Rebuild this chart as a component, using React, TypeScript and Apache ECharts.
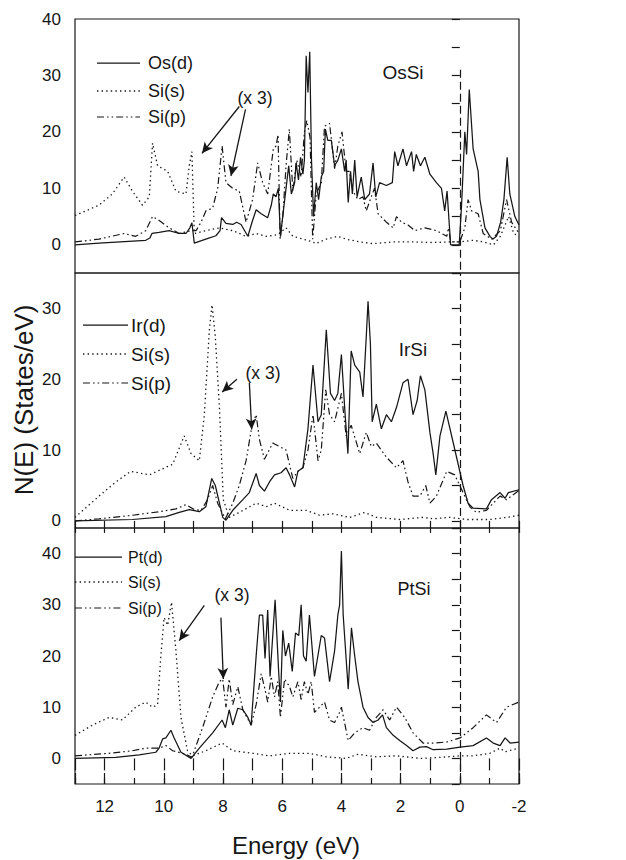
import React, { useEffect, useRef } from 'react';
import * as echarts from 'echarts';

type P = [number, number];

// ---------- OsSi ----------
const osD: P[] = [
  [13, 0], [12.19, 0.3], [10.61, 0.8], [10.47, 1.2], [10.4, 2.0], [10.16, 2.2], [9.82, 2.5], [9.48, 2.0], [9.25, 2.0],
  [9.12, 3.0], [9.05, 3.9], [8.97, 0.3], [8.58, 1.0], [8.24, 1.6], [8.1, 2.5], [8.05, 4.8], [7.9, 3.8], [7.67, 3.6],
  [7.54, 4.0], [7.39, 3.6], [7.16, 1.5], [7.02, 4.0], [6.88, 6.2], [6.71, 5.5], [6.49, 4.8], [6.37, 7.0], [6.3, 9.0],
  [6.21, 8.5], [6.13, 10.0], [6.06, 1.5], [5.96, 6.0], [5.87, 10.0], [5.78, 14.0], [5.69, 9.0], [5.58, 11.0], [5.53, 14.5],
  [5.45, 11.5], [5.38, 15.5], [5.3, 12.5], [5.25, 15.0], [5.19, 33.5], [5.13, 27.0], [5.07, 34.2], [5.01, 15.0], [4.94, 5.0],
  [4.85, 11.0], [4.77, 8.0], [4.68, 12.0], [4.6, 13.0], [4.54, 20.5], [4.46, 18.5], [4.34, 18.5], [4.23, 14.0], [4.12, 15.0],
  [4.0, 17.0], [3.89, 13.0], [3.84, 15.0], [3.77, 7.5], [3.69, 13.0], [3.63, 9.0], [3.55, 15.0], [3.47, 8.5], [3.33, 12.0],
  [3.21, 8.0], [3.05, 9.0], [2.93, 14.5], [2.84, 8.5], [2.71, 11.0], [2.48, 10.5], [2.28, 11.0], [2.2, 16.5], [2.09, 14.0],
  [1.92, 17.0], [1.8, 14.0], [1.63, 16.5], [1.56, 13.0], [1.47, 16.0], [1.33, 14.0], [1.18, 15.5], [1.01, 12.5], [0.79, 11.0],
  [0.62, 10.0], [0.51, 6.0], [0.43, 9.5], [0.36, 4.0], [0.31, 0], [0.02, 0], [-0.06, 7.0], [-0.17, 20.0], [-0.23, 16.0],
  [-0.32, 27.5], [-0.45, 17.0], [-0.62, 13.0], [-0.68, 8.0], [-0.85, 3.0], [-1.02, 1.5], [-1.11, 1.0], [-1.24, 1.5],
  [-1.38, 4.0], [-1.49, 8.0], [-1.6, 15.5], [-1.69, 9.0], [-1.86, 5.0], [-2, 3.5],
];
const osSiS: P[] = [
  [13, 5.2], [12.19, 7.0], [11.74, 9.0], [11.34, 12.0], [11.06, 9.5], [10.72, 7.0], [10.49, 8.5], [10.38, 18.0], [10.21, 14.0],
  [9.87, 13.0], [9.59, 9.5], [9.25, 9.0], [9.14, 14.0], [9.05, 16.5], [8.97, 2.0], [8.58, 2.5], [8.12, 3.0], [7.67, 2.5],
  [7.22, 1.5], [6.88, 2.0], [6.54, 1.5], [6.15, 1.8], [5.87, 3.0], [5.64, 1.5], [5.3, 1.0], [4.96, 0.5], [4.87, 0.2],
  [4.51, 1.0], [4.12, 1.5], [3.84, 1.0], [3.38, 0.5], [2.93, 0.2], [2.25, 0.5], [1.58, 0.5], [0.9, 0.4], [0.33, 0.5],
  [0, 0.5], [-0.45, 0.8], [-0.8, 0.5], [-1.14, 0], [-1.37, 1.5], [-1.65, 5.0], [-1.82, 2.0], [-2, 1.5],
];
const osSiP: P[] = [
  [13, 0.5], [12.19, 1.0], [11.34, 2.0], [10.95, 1.5], [10.61, 2.5], [10.38, 5.0], [10.21, 4.5], [9.82, 3.0], [9.48, 2.0],
  [9.08, 2.5], [8.91, 2.5], [8.74, 4.0], [8.58, 6.0], [8.35, 6.5], [8.18, 10.0], [8.03, 17.5], [7.9, 11.0], [7.67, 10.0],
  [7.45, 9.5], [7.22, 4.0], [7.0, 8.0], [6.83, 14.5], [6.66, 11.0], [6.49, 9.0], [6.3, 17.0], [6.21, 17.5], [6.14, 19.5],
  [6.07, 1.0], [5.98, 5.0], [5.87, 14.0], [5.76, 20.5], [5.64, 9.5], [5.51, 15.0], [5.36, 12.0], [5.25, 20.0], [5.17, 22.0],
  [5.06, 19.0], [4.97, 1.0], [4.85, 9.0], [4.68, 11.0], [4.57, 21.0], [4.4, 21.5], [4.23, 13.5], [4.12, 17.5], [3.98, 20.0],
  [3.84, 13.0], [3.73, 13.0], [3.61, 9.5], [3.44, 8.0], [3.27, 8.5], [3.16, 6.0], [2.99, 8.5], [2.88, 10.0], [2.76, 5.5],
  [2.48, 4.0], [2.25, 3.0], [2.14, 5.0], [1.97, 4.0], [1.75, 3.5], [1.52, 2.5], [1.18, 3.0], [0.79, 2.5], [0.44, 1.5],
  [0.38, 3.0], [0.31, 0.5], [0, 0.5], [-0.17, 3.0], [-0.28, 8.0], [-0.4, 6.0], [-0.62, 5.5], [-0.79, 2.0], [-1.08, 1.0],
  [-1.37, 2.5], [-1.58, 8.0], [-1.75, 4.0], [-2, 2.0],
];

// ---------- IrSi ----------
const irD: P[] = [
  [13, 0], [11.06, 0.2], [9.93, 0.6], [9.48, 1.2], [9.14, 1.6], [8.8, 1.3], [8.58, 2.0], [8.38, 6.0], [8.26, 5.0],
  [8.12, 2.5], [8.01, 0.5], [7.9, 0.1], [7.67, 1.5], [7.33, 3.0], [7.11, 4.0], [6.88, 6.7], [6.77, 5.0], [6.6, 4.2],
  [6.43, 5.5], [6.26, 6.5], [6.04, 6.8], [5.87, 7.5], [5.75, 6.5], [5.58, 4.8], [5.47, 7.0], [5.3, 7.5], [5.13, 13.0],
  [4.96, 22.0], [4.79, 14.0], [4.68, 15.0], [4.51, 27.0], [4.37, 18.0], [4.23, 17.0], [4.12, 18.0], [4.0, 23.5], [3.89, 16.0],
  [3.78, 9.5], [3.67, 24.0], [3.55, 22.0], [3.38, 21.0], [3.27, 17.5], [3.16, 26.0], [3.1, 31.0], [3.02, 25.0], [2.96, 14.0],
  [2.82, 16.5], [2.65, 13.0], [2.48, 15.0], [2.31, 14.0], [2.14, 16.0], [1.92, 19.5], [1.75, 20.0], [1.58, 15.0], [1.44, 17.0],
  [1.33, 20.5], [1.18, 18.5], [1.01, 12.5], [0.9, 9.5], [0.81, 6.5], [0.67, 12.0], [0.47, 15.5], [0.22, 11.0], [-0.11, 5.0],
  [-0.28, 2.5], [-0.45, 1.8], [-0.9, 1.7], [-1.07, 3.0], [-1.36, 4.0], [-1.53, 3.2], [-1.64, 4.0], [-2, 4.4],
];
const irSiS: P[] = [
  [13, 0.5], [12.19, 3.5], [11.62, 5.5], [11.12, 7.0], [10.49, 6.5], [9.7, 8.0], [9.31, 12.0], [9.08, 9.5], [8.8, 8.5],
  [8.63, 15.0], [8.46, 27.0], [8.37, 30.5], [8.26, 26.0], [8.12, 16.0], [7.99, 3.0], [7.79, 0.5], [7.45, 1.2], [6.88, 2.5],
  [6.54, 2.0], [6.26, 2.5], [5.75, 1.5], [5.19, 1.5], [4.74, 0.8], [4.29, 1.0], [3.72, 0.5], [3.21, 1.2], [2.82, 0.5],
  [2.03, 0.2], [1.24, 0.5], [0.9, 0.3], [0.34, 0.5], [-0.23, 0.2], [-1.02, 0.2], [-1.58, 0.5], [-2, 0.8],
];
const irSiP: P[] = [
  [13, 0], [12.19, 0.3], [11.06, 0.8], [10.16, 1.3], [9.59, 1.7], [9.25, 2.3], [8.97, 1.6], [8.74, 1.5], [8.52, 3.0],
  [8.35, 5.0], [8.18, 2.5], [7.92, 0.3], [7.67, 2.5], [7.45, 5.0], [7.22, 8.5], [7.02, 13.5], [6.88, 15.0], [6.77, 11.5],
  [6.6, 8.7], [6.32, 11.0], [6.09, 10.5], [5.87, 10.0], [5.64, 6.0], [5.47, 7.0], [5.3, 7.5], [5.13, 10.0], [4.96, 15.0],
  [4.79, 8.5], [4.68, 10.0], [4.53, 18.5], [4.4, 15.0], [4.23, 14.0], [4.0, 18.0], [3.84, 12.0], [3.67, 13.5], [3.38, 9.5],
  [3.16, 12.5], [2.99, 10.5], [2.82, 11.0], [2.48, 9.0], [2.14, 7.5], [1.92, 8.5], [1.75, 5.5], [1.58, 3.5], [1.35, 3.5],
  [1.15, 5.0], [1.01, 2.5], [0.79, 3.5], [0.44, 7.0], [0.17, 6.5], [-0.11, 4.0], [-0.34, 2.0], [-0.56, 1.2], [-0.9, 1.5],
  [-1.13, 2.5], [-1.36, 3.5], [-1.58, 3.0], [-2, 4.3],
];

// ---------- PtSi ----------
const ptD: P[] = [
  [13, 0], [11.62, 0.2], [10.83, 0.7], [10.27, 1.2], [10.16, 2.0], [10.04, 3.8], [9.93, 4.0], [9.76, 5.5], [9.65, 4.0],
  [9.42, 1.2], [9.08, 0], [8.8, 2.0], [8.35, 5.0], [8.03, 7.5], [7.92, 6.0], [7.79, 9.5], [7.67, 6.5], [7.5, 9.8],
  [7.33, 9.5], [7.16, 8.0], [7.05, 6.5], [6.88, 20.0], [6.77, 28.0], [6.66, 28.0], [6.58, 19.5], [6.49, 29.0], [6.41, 16.0],
  [6.24, 31.0], [6.12, 17.0], [6.06, 11.0], [5.98, 25.0], [5.89, 20.0], [5.78, 22.5], [5.66, 17.0], [5.55, 24.5], [5.44, 24.0],
  [5.36, 30.0], [5.28, 20.0], [5.19, 19.0], [5.08, 28.0], [4.91, 16.0], [4.68, 24.0], [4.57, 23.5], [4.4, 15.0], [4.23, 21.0],
  [4.12, 28.0], [4.06, 30.0], [4.0, 40.5], [3.94, 28.0], [3.77, 13.5], [3.66, 25.5], [3.55, 20.0], [3.44, 15.0], [3.27, 10.0],
  [3.1, 8.0], [2.93, 7.0], [2.76, 7.5], [2.61, 8.5], [2.48, 6.0], [2.25, 4.5], [2.03, 3.5], [1.8, 2.5], [1.58, 1.5],
  [1.35, 2.2], [1.13, 2.3], [0.9, 1.7], [0.44, 1.8], [-0.01, 2.2], [-0.45, 2.5], [-0.9, 4.0], [-1.13, 3.0], [-1.36, 2.5],
  [-1.53, 4.0], [-1.7, 3.0], [-2, 3.2],
];
const ptSiS: P[] = [
  [13, 4.5], [12.41, 6.5], [11.85, 8.0], [11.4, 7.5], [10.95, 10.0], [10.61, 11.0], [10.38, 10.0], [10.21, 10.5], [10.1, 20.0],
  [9.99, 27.5], [9.87, 26.0], [9.74, 30.5], [9.59, 21.0], [9.42, 8.0], [9.2, 1.5], [9.03, 0.5], [8.58, 1.5], [8.03, 3.0],
  [7.67, 1.5], [7.0, 1.0], [6.43, 0.5], [5.75, 1.0], [5.08, 1.0], [4.51, 0.3], [3.84, 0], [3.44, 0.8], [2.82, 0.3],
  [2.14, 0.5], [1.35, 0], [0.67, 0.2], [-0.01, 0.5], [-0.45, 0.5], [-1.02, 1.0], [-1.36, 2.0], [-1.53, 1.3], [-2, 2.0],
];
const ptSiP: P[] = [
  [13, 0.5], [11.85, 1.0], [11.06, 1.5], [10.61, 2.0], [10.16, 2.0], [9.93, 2.5], [9.7, 1.5], [9.25, 0.8], [9.05, 0.2],
  [8.69, 6.0], [8.35, 12.0], [8.12, 15.0], [8.01, 15.5], [7.9, 10.0], [7.79, 15.5], [7.67, 10.5], [7.5, 14.0], [7.33, 9.5],
  [7.05, 6.5], [6.88, 10.5], [6.71, 16.5], [6.6, 14.0], [6.49, 11.0], [6.37, 16.0], [6.26, 12.0], [6.15, 15.0], [6.06, 8.0],
  [5.92, 15.5], [5.75, 14.0], [5.64, 12.0], [5.47, 15.0], [5.36, 11.5], [5.25, 15.0], [5.13, 12.5], [5.02, 15.0], [4.91, 9.0],
  [4.74, 10.0], [4.57, 11.0], [4.4, 7.5], [4.23, 7.0], [4.06, 9.0], [4.0, 10.0], [3.77, 3.5], [3.55, 5.0], [3.27, 6.0],
  [3.05, 5.5], [2.82, 8.0], [2.59, 9.5], [2.37, 7.5], [2.14, 10.0], [1.86, 8.0], [1.58, 5.0], [1.24, 3.0], [0.9, 3.0],
  [0.44, 3.2], [-0.01, 4.0], [-0.45, 6.0], [-0.9, 8.5], [-1.24, 7.0], [-1.58, 10.0], [-2, 11.0],
];

const compounds = ['OsSi', 'IrSi', 'PtSi'];
const metals = ['Os(d)', 'Ir(d)', 'Pt(d)'];
const siLabels = ['Si(s)', 'Si(p)'];
const panelSeries = [
  [osD, osSiS, osSiP],
  [irD, irSiS, irSiP],
  [ptD, ptSiS, ptSiP],
];
const yRanges = [[-5, 40], [-1, 35], [-5, 45]];
const fermiTop = [31, 35, 45];
// annotation arrows (start, end) in data units (energy, N)
const arrowsByPanel: [P, P][][] = [
  [[[7.45, 24.5], [8.71, 16.2]], [[7.24, 24.0], [7.73, 12.2]]],
  [[[7.53, 20.0], [8.03, 18.2]], [[7.11, 19.5], [7.03, 12.9]]],
  [[[8.63, 29.9], [9.48, 23.0]], [[8.07, 27.5], [7.99, 15.5]]],
];

const FONT = 'Liberation Sans';
const INK = '#161616';
const dotted = [1.4, 3.2];
const dashDot = [7, 3, 1.6, 3, 1.6, 3];
const styles = [
  { type: 'solid' as any, width: 1.25 },
  { type: dotted as any, width: 1.3 },
  { type: dashDot as any, width: 1.2 },
];

const grids = [
  { left: 75, top: 19, width: 444, height: 254 },
  { left: 75, top: 273, width: 444, height: 255 },
  { left: 75, top: 528, width: 444, height: 256 },
];
const legendPos = [
  { x0: 97, x1: 140, tx: 148, ys: [63, 91, 117], fs: 18 },
  { x0: 83, x1: 128, tx: 131, ys: [325, 354, 383], fs: 19 },
  { x0: 75, x1: 122, tx: 128, ys: [557, 582, 608], fs: 16 },
];
const namePos = [
  { x: 403, y: 72, fs: 19 },
  { x: 413, y: 349, fs: 19 },
  { x: 414, y: 589, fs: 18 },
];
const x3Pos = [
  { x: 255, y: 98 },
  { x: 263, y: 373 },
  { x: 232, y: 595 },
];

export default function App() {
  const ref = useRef<HTMLDivElement>(null);
  useEffect(() => {
    if (!ref.current) return;
    const chart = echarts.init(ref.current, undefined, { renderer: 'svg' });

    const yLabelFmt = (v: number) => (v >= 0 && v % 10 === 0 ? String(v) : '');
    const labelText = { fontSize: 17, color: INK, fontFamily: FONT };

    const yAxis = yRanges.map((r, i) => {
      const base: any = {
        type: 'value',
        gridIndex: i,
        min: r[0],
        max: r[1],
        axisLine: { show: false },
        axisTick: { show: true, inside: false, length: 8, lineStyle: { color: INK, width: 1.2 } },
        axisLabel: { formatter: yLabelFmt, margin: 14, ...labelText },
        splitLine: { show: false },
      };
      if (i === 1) base.splitNumber = 7;
      else base.interval = 5;
      return base;
    });

    const xBase = {
      type: 'value',
      min: -2,
      max: 13,
      inverse: true,
      axisLine: { show: false },
      splitLine: { show: false },
    };
    const xAxis: any[] = [
      { ...xBase, gridIndex: 0, show: false },
      { ...xBase, gridIndex: 1, position: 'top', interval: 1, axisTick: { inside: true, length: 12, lineStyle: { color: INK, width: 1.2 } }, axisLabel: { show: false } },
      { ...xBase, gridIndex: 2, position: 'top', interval: 1, axisTick: { inside: true, length: 12, lineStyle: { color: INK, width: 1.2 } }, axisLabel: { show: false } },
      {
        ...xBase, gridIndex: 2, position: 'bottom', interval: 2,
        axisTick: { inside: true, length: 11, lineStyle: { color: INK, width: 1.2 } },
        axisLabel: { formatter: (v: number) => (v > 12.5 ? '' : String(v)), margin: 14, ...labelText },
      },
      {
        ...xBase, gridIndex: 2, position: 'bottom', interval: 1,
        axisTick: { inside: true, length: 6, lineStyle: { color: INK, width: 1.2 } },
        axisLabel: { show: false },
      },
    ];

    const series: any[] = [];
    panelSeries.forEach((trio, p) => {
      trio.forEach((data, k) => {
        const s: any = {
          type: 'line',
          name: `${compounds[p]}-${k === 0 ? metals[p] : siLabels[k - 1]}`,
          xAxisIndex: [0, 1, 3][p],
          yAxisIndex: p,
          data,
          showSymbol: false,
          symbol: 'none',
          smooth: false,
          lineStyle: { color: INK, ...styles[k] },
          z: 3 - k,
        };
        if (k === 0) {
          const fermi: any =
            p === 0
              ? [{ coord: [0, fermiTop[p]], symbol: 'none', lineStyle: { type: [8, 4], width: 1.2, color: INK } }, { coord: [0, yRanges[p][0]], symbol: 'none' }]
              : [{ coord: [0, yRanges[p][0]], symbol: 'none', lineStyle: { type: [8, 4], width: 1.2, color: INK } }, { coord: [0, yRanges[p][1]], symbol: 'none' }];
          const arrows = arrowsByPanel[p].map(([a, b]) => [
            { coord: a, symbol: 'none', lineStyle: { type: 'solid', width: 1.3, color: INK } },
            { coord: b, symbol: 'arrow' },
          ]);
          s.markLine = {
            silent: true,
            symbol: ['none', 'arrow'],
            symbolSize: [8, 11],
            label: { show: false },
            lineStyle: { color: INK },
            itemStyle: { color: INK },
            emphasis: { disabled: true },
            data: [fermi, ...arrows],
          };
        }
        series.push(s);
      });
    });

    const graphic: any[] = [];
    const txt = (x: number, y: number, text: string, fs: number, align = 'left', extra: any = {}) => ({
      type: 'text',
      x,
      y,
      silent: true,
      ...extra,
      style: { text, fill: INK, fontSize: fs, fontFamily: FONT, align, verticalAlign: 'middle' },
    });
    legendPos.forEach((lp, p) => {
      const names = [metals[p], siLabels[0], siLabels[1]];
      names.forEach((nm, k) => {
        graphic.push({
          type: 'line',
          shape: { x1: lp.x0, y1: lp.ys[k], x2: lp.x1, y2: lp.ys[k] },
          style: { stroke: INK, lineWidth: styles[k].width, lineDash: k === 0 ? null : k === 1 ? dotted : dashDot },
          silent: true,
        });
        graphic.push(txt(lp.tx, lp.ys[k], nm, lp.fs));
      });
      graphic.push(txt(namePos[p].x, namePos[p].y, compounds[p], namePos[p].fs, 'center'));
      graphic.push(txt(x3Pos[p].x, x3Pos[p].y, '(x 3)', 17.5, 'center'));
    });
    graphic.push(txt(24, 400, 'N(E) (States/eV)', 26, 'center', { rotation: Math.PI / 2 }));
    graphic.push(txt(296, 845, 'Energy (eV)', 24, 'center'));

    chart.setOption({
      animation: false,
      backgroundColor: '#ffffff',
      grid: grids.map((g) => ({ ...g, show: true, borderColor: INK, borderWidth: 1.2, backgroundColor: 'transparent' })),
      xAxis,
      yAxis,
      series,
      graphic,
    });
    return () => chart.dispose();
  }, []);

  return <div ref={ref} style={{ position: 'absolute', left: 0, top: 0, width: 626, height: 860 }} />;
}
